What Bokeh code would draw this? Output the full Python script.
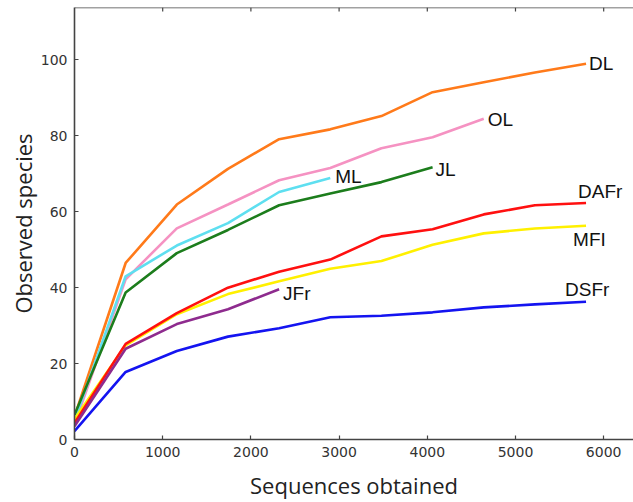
from bokeh.plotting import figure
from bokeh.models import Range1d, FixedTicker, Span
from bokeh.core.properties import value
from bokeh.embed import file_html
from bokeh.resources import INLINE

# Rarefaction data (x = sequences obtained, y = observed species)
x_all = [0, 580, 1160, 1740, 2320, 2900, 3480, 4060, 4640, 5220, 5800]

DL = [6.0, 46.5, 61.9, 71.3, 79.1, 81.7, 85.2, 91.5, 94.1, 96.7, 99.0]
OL = [4.0, 42.2, 55.6, 61.9, 68.3, 71.5, 76.7, 79.6, 84.5]
ML = [5.0, 43.0, 51.1, 57.0, 65.2, 68.9]
JL = [6.5, 38.7, 49.1, 55.2, 61.7, 64.8, 67.8, 71.7]
MFI = [5.4, 24.8, 33.0, 38.3, 41.7, 45.0, 47.0, 51.3, 54.3, 55.6, 56.3]
DAFr = [4.3, 25.2, 33.3, 40.0, 44.2, 47.4, 53.5, 55.4, 59.3, 61.7, 62.3]
JFr = [3.5, 23.9, 30.4, 34.3, 39.6]
DSFr = [2.2, 17.8, 23.3, 27.1, 29.3, 32.2, 32.6, 33.5, 34.8, 35.6, 36.3]

series_names = ["DL", "OL", "ML", "JL", "MFI", "DAFr", "JFr", "DSFr"]
series_values = [DL, OL, ML, JL, MFI, DAFr, JFr, DSFr]
series_colors = ["#FF7A1A", "#F592C2", "#5EDFF0", "#1C7D1C", "#FFF000", "#FF1010", "#8E2B8E", "#1414F0"]
# label offsets in screen pixels from the last point of each curve (positive dy = down)
label_dx = [3, 4, 5, 3, -13, -8, 4, -21]
label_dy = [0, 1, -1, 2, 14, -12, 4, -12]

x_ticks = [0, 1000, 2000, 3000, 4000, 5000, 6000]
y_ticks = [0, 20, 40, 60, 80, 100]
x_end = 6338
y_end = 113.8

p = figure(width=633, height=502, output_backend="svg", toolbar_location=None,
           x_range=Range1d(0, x_end), y_range=Range1d(0, y_end),
           min_border_left=74, min_border_right=0, min_border_top=7, min_border_bottom=59)
p.background_fill_color = "white"
p.border_fill_color = "white"
p.outline_line_color = None
p.xgrid.visible = False
p.ygrid.visible = False

for name, vals, col in zip(series_names, series_values, series_colors):
    xs = x_all[:len(vals)]
    p.line(xs, vals, line_color=col, line_width=2.6)

for name, vals, dx, dy in zip(series_names, series_values, label_dx, label_dy):
    xs = x_all[:len(vals)]
    p.text(x=[xs[-1]], y=[vals[-1]], text=[name], x_offset=dx, y_offset=dy,
           text_font=value("Liberation Sans"), text_font_size="19px",
           text_color="#111111", text_align="left", text_baseline="middle")

# top spine with inward ticks
p.add_layout(Span(location=y_end, dimension="width", line_color="#444444", line_width=1.6))
tick_len = 4 * y_end / 436.0
p.segment(x0=x_ticks[1:], x1=x_ticks[1:], y0=[y_end] * (len(x_ticks) - 1),
          y1=[y_end - tick_len] * (len(x_ticks) - 1), line_color="#444444", line_width=1.2)

for ax in (p.xaxis[0], p.yaxis[0]):
    ax.axis_line_color = "#444444"
    ax.axis_line_width = 1.6
    ax.major_tick_line_color = "#444444"
    ax.major_tick_line_width = 1.2
    ax.major_tick_in = 4
    ax.major_tick_out = 0
    ax.minor_tick_line_color = None
    ax.major_label_text_font = "DejaVu Sans"
    ax.major_label_text_font_size = "14px"
    ax.major_label_text_color = "#333333"
    ax.major_label_standoff = 7
    ax.axis_label_text_font = "Open Sans"
    ax.axis_label_text_font_size = "22px"
    ax.axis_label_text_font_style = "normal"
    ax.axis_label_text_color = "#222222"

p.xaxis[0].ticker = FixedTicker(ticks=x_ticks)
p.yaxis[0].ticker = FixedTicker(ticks=y_ticks)
p.xaxis[0].axis_label = "Sequences obtained"
p.yaxis[0].axis_label = "Observed species"
p.xaxis[0].axis_label_standoff = 10
p.yaxis[0].axis_label_standoff = 0

open("out.html", "w").write(file_html(p, INLINE))
